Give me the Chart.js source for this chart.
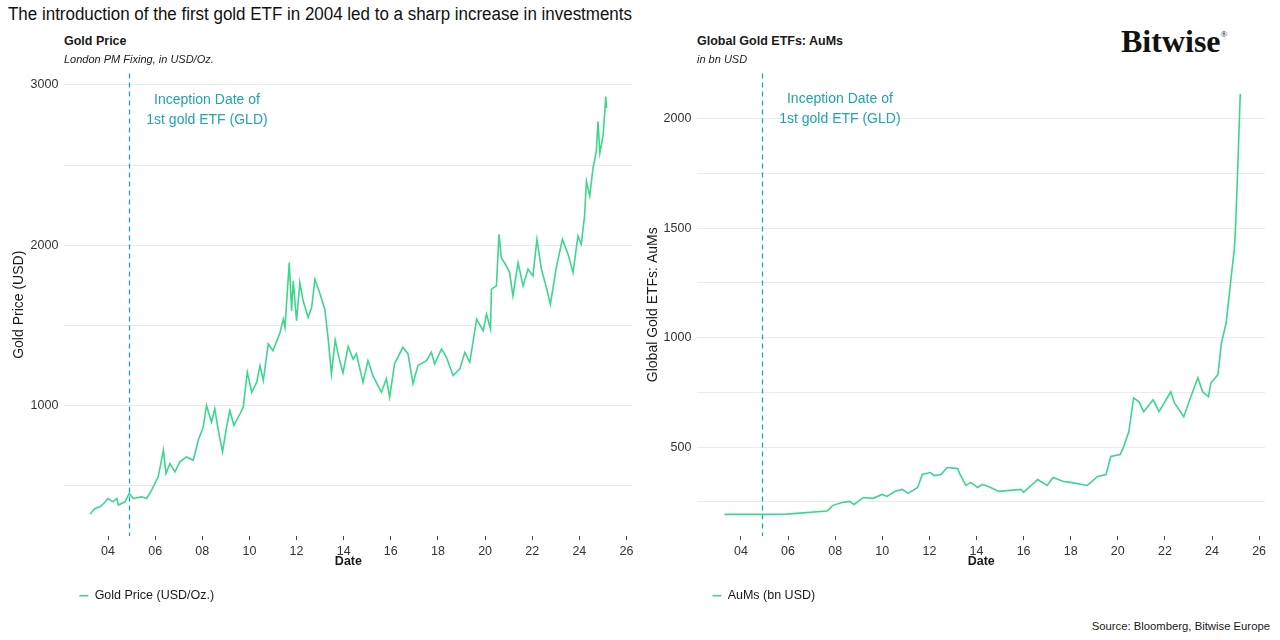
<!DOCTYPE html>
<html><head><meta charset="utf-8">
<script src="https://cdn.jsdelivr.net/npm/chart.js@4.4.1/dist/chart.umd.min.js"></script>
<style>
html,body{margin:0;padding:0;background:#fff;}
#wrap{position:relative;width:1280px;height:640px;overflow:hidden;font-family:'Liberation Sans',Arial,sans-serif;color:#1a1a1a;}
.t{position:absolute;white-space:nowrap;line-height:1;}
canvas{position:absolute;}
</style></head><body>
<div id="wrap">
 <canvas id="c1" style="left:0;top:60px;width:640px;height:552px" width="640" height="552"></canvas>
 <canvas id="c2" style="left:640px;top:60px;width:640px;height:552px" width="640" height="552"></canvas>
 <div class="t" id="title" style="left:8px;top:5px;font-size:18px;color:#111;">The introduction of the first gold ETF in 2004 led to a sharp increase in investments</div>
 <div class="t" style="left:64px;top:35px;font-size:12.5px;font-weight:bold;">Gold Price</div>
 <div class="t" style="left:64px;top:53.5px;font-size:11px;font-style:italic;">London PM Fixing, in USD/Oz.</div>
 <div class="t" style="left:697px;top:35px;font-size:12.5px;font-weight:bold;">Global Gold ETFs: AuMs</div>
 <div class="t" style="left:697px;top:53.5px;font-size:11px;font-style:italic;">in bn USD</div>
 <div class="t" style="left:1121px;top:25px;font-size:32px;font-weight:bold;font-family:'Liberation Serif','Times New Roman',serif;color:#111;">Bitwise<span style="font-size:9px;position:relative;top:-15px;font-weight:normal;">®</span></div>
 <div class="t" style="right:10px;top:621px;font-size:11.3px;">Source: Bloomberg, Bitwise Europe</div>
</div>
<script>
// ---- data ----
const goldYears = [2003.24,2003.45,2003.66,2003.85,2004.0,2004.22,2004.37,2004.44,2004.72,2004.9,
 2005.07,2005.43,2005.64,2005.85,2006.13,2006.35,2006.46,2006.63,2006.84,2007.05,
 2007.33,2007.62,2007.83,2008.04,2008.18,2008.39,2008.53,2008.68,2008.86,2009.03,
 2009.17,2009.34,2009.6,2009.74,2009.91,2010.1,2010.31,2010.45,2010.59,2010.8,
 2011.0,2011.3,2011.44,2011.51,2011.69,2011.79,2011.86,2012.0,2012.14,2012.28,
 2012.49,2012.64,2012.78,2012.99,2013.2,2013.34,2013.48,2013.64,2013.8,2013.97,
 2014.19,2014.4,2014.54,2014.82,2015.03,2015.24,2015.6,2015.81,2015.95,2016.16,
 2016.51,2016.73,2016.94,2017.15,2017.51,2017.72,2017.86,2018.15,2018.36,2018.64,
 2018.93,2019.14,2019.35,2019.64,2019.92,2020.06,2020.23,2020.27,2020.48,2020.59,
 2020.69,2020.9,2021.04,2021.18,2021.4,2021.61,2021.82,2022.03,2022.2,2022.39,
 2022.6,2022.77,2023.02,2023.28,2023.52,2023.73,2023.94,2024.08,2024.22,2024.3,
 2024.44,2024.58,2024.72,2024.79,2024.87,2025.01,2025.12,2025.15];
const goldPrices = [325,360,370,395,422,401,422,381,401,453,
 422,432,422,474,557,722,578,640,588,650,
 681,660,785,867,1002,898,981,847,712,867,
 970,878,950,991,1209,1084,1147,1250,1157,1385,
 1343,1457,1540,1488,1892,1592,1778,1530,1768,1654,
 1550,1612,1788,1700,1600,1420,1199,1410,1300,1205,
 1370,1290,1323,1147,1281,1188,1084,1168,1053,1261,
 1364,1323,1137,1250,1281,1333,1261,1354,1302,1188,
 1230,1333,1271,1540,1468,1571,1478,1727,1747,2068,
 1923,1871,1830,1685,1892,1747,1851,1809,2037,1851,
 1737,1633,1861,2037,1944,1830,2058,2006,2182,2399,
 2306,2482,2585,2772,2575,2689,2927,2854];

const aumYears = [2003.3,2004.9,2005.95,2007.66,2007.9,2008.3,2008.6,2008.8,2009.2,2009.6,
 2010.0,2010.2,2010.55,2010.85,2011.1,2011.5,2011.7,2012.05,2012.2,2012.5,
 2012.75,2013.2,2013.3,2013.55,2013.75,2014.05,2014.25,2014.6,2014.95,2015.9,
 2016.0,2016.6,2017.0,2017.25,2017.7,2018.0,2018.7,2019.15,2019.5,2019.7,
 2020.1,2020.25,2020.47,2020.67,2020.9,2021.1,2021.5,2021.75,2022.25,2022.4,
 2022.8,2023.1,2023.4,2023.6,2023.85,2023.95,2024.25,2024.4,2024.6,2024.8,
 2024.95,2025.0,2025.1,2025.18,2025.2];
const aumValues = [193,193,194,208,234,247,252,238,270,266,
 284,275,298,307,289,316,375,384,370,375,
 407,402,375,325,339,316,330,316,298,307,
 293,352,325,361,343,339,325,366,375,457,
 466,502,571,725,707,662,716,662,753,703,
 639,730,817,753,730,794,830,976,1067,1263,
 1408,1504,1795,2050,2114];

const xTickYears = [2004,2006,2008,2010,2012,2014,2016,2018,2020,2022,2024,2026];
const goldGridValues = [500,1000,1500,2000,2500,3000];
const goldLabelValues = [1000,2000,3000];
const aumGridValues = [250,500,750,1000,1250,1500,1750,2000];
const aumLabelValues = [500,1000,1500,2000];
const inceptionDate = 2004.88;
const inceptionLines = ['Inception Date of','1st gold ETF (GLD)'];

// ---- styling ----
const FONT = "'Liberation Sans', Arial, sans-serif";
Chart.defaults.font.family = FONT;
const LINE = '#3dd68c';
const TEAL = '#1fa5ab';

const inceptionPlugin = {
  id: 'inception',
  beforeDatasetsDraw(chart, args, o) {
    const {ctx, chartArea: a, scales: {x}} = chart;
    const px = Math.round(x.getPixelForValue(o.date)) + 0.5;
    ctx.save();
    ctx.strokeStyle = o.color; ctx.lineWidth = 1.3; ctx.setLineDash([5, 4]);
    ctx.beginPath(); ctx.moveTo(px, a.top); ctx.lineTo(px, a.bottom); ctx.stroke();
    ctx.restore();
  },
  afterDatasetsDraw(chart, args, o) {
    const {ctx, scales: {x, y}} = chart;
    ctx.save();
    ctx.fillStyle = o.color;
    ctx.font = '14px ' + FONT;
    ctx.textAlign = 'center'; ctx.textBaseline = 'middle';
    const cx = x.getPixelForValue(o.labelX), cy = y.getPixelForValue(o.labelY);
    o.lines.forEach((t, i) => ctx.fillText(t, cx, cy + i * 20));
    ctx.restore();
  }
};

function makeChart(id, xs, ys, label, yTitle, yMin, yMax, gridVals, labelVals, yWidth, padRight, titlePad, labelY) {
  const pts = xs.map((v, i) => ({x: v, y: ys[i]}));
  return new Chart(document.getElementById(id), {
    type: 'line',
    data: {datasets: [{label, data: pts, borderColor: LINE, backgroundColor: LINE,
      borderWidth: 1.6, pointRadius: 0, tension: 0, fill: false}]},
    plugins: [inceptionPlugin],
    options: {
      responsive: false, animation: false,
      layout: {padding: {top: 12.5, right: padRight, bottom: 0, left: 0}},
      plugins: {
        legend: {position: 'bottom', align: 'start', fullSize: false,
          labels: {usePointStyle: true, pointStyle: 'line', boxHeight: 6, pointStyleWidth: 9,
            padding: 15, color: '#1a1a1a', font: {size: 12.5}}},
        tooltip: {enabled: false},
        inception: {date: inceptionDate, color: TEAL, labelX: 2008.2, labelY, lines: inceptionLines}
      },
      scales: {
        x: {type: 'linear', min: 2002.15, max: 2026.25,
          afterBuildTicks: s => { s.ticks = xTickYears.map(v => ({value: v})); },
          afterFit: s => { s.height = 38.5; },
          ticks: {callback: v => String(v % 100).padStart(2, '0'), color: '#333', font: {size: 12.5}, padding: 4, maxRotation: 0, autoSkip: false},
          grid: {display: true, drawOnChartArea: false, drawTicks: true, tickLength: 4, color: '#444', lineWidth: 1},
          border: {display: false},
          title: {display: true, text: 'Date', color: '#1a1a1a', font: {size: 12.5, weight: 'bold'}, padding: {top: 0, bottom: 5}}
        },
        y: {type: 'linear', min: yMin, max: yMax,
          afterBuildTicks: s => { s.ticks = gridVals.map(v => ({value: v})); },
          afterFit: s => { s.width = yWidth; },
          ticks: {callback: v => labelVals.includes(v) ? String(v) : '', color: '#333', font: {size: 12.5}, padding: 6, autoSkip: false},
          grid: {color: '#ebebeb', lineWidth: 1, drawTicks: false},
          border: {display: false},
          title: {display: true, text: yTitle, color: '#1a1a1a', font: {size: 14}, padding: {top: titlePad, bottom: 0}}
        }
      }
    }
  });
}

makeChart('c1', goldYears, goldPrices, 'Gold Price (USD/Oz.)', 'Gold Price (USD)', 188, 3071,
  goldGridValues, goldLabelValues, 64.4, 7.6, 10.6, 2907);
makeChart('c2', aumYears, aumValues, 'AuMs (bn USD)', 'Global Gold ETFs: AuMs', 94, 2207,
  aumGridValues, aumLabelValues, 57.4, 15, 5.1, 2090);

// fit the headline to the reference width
const tt = document.getElementById('title');
const w = tt.getBoundingClientRect().width;
tt.style.transformOrigin = 'left center';
tt.style.transform = 'scaleX(' + (624 / w) + ')';
</script>
</body></html>
